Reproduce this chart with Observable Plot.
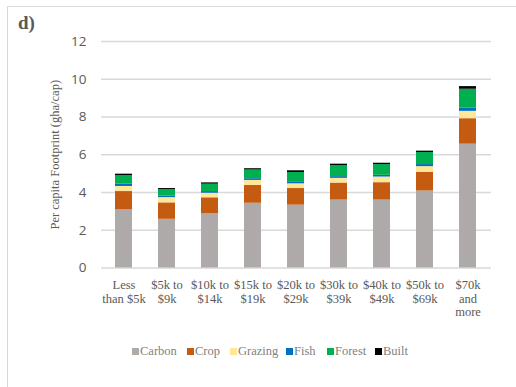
<!DOCTYPE html>
<html>
<head>
<meta charset="utf-8">
<script src="https://cdn.jsdelivr.net/npm/d3@7"></script>
<script src="https://cdn.jsdelivr.net/npm/@observablehq/plot@0.6"></script>
<style>
  html, body { margin: 0; padding: 0; background: #fff; }
  #wrap { position: relative; width: 516px; height: 387px; overflow: hidden; background: #fff; }
  #frame { position: absolute; left: 7px; top: 6px; width: 600px; height: 500px; border: 1px solid #d9d9d9; box-sizing: border-box; }
  #tag { position: absolute; left: 18px; top: 12px; font-family: "Liberation Serif", "Times New Roman", serif; font-weight: bold; font-size: 19px; color: #595959; }
  #chart { position: absolute; left: 0; top: 0; }
  #legend { position: absolute; left: 0; top: 344px; width: 516px; font-family: "Liberation Serif", "Times New Roman", serif; font-size: 12.5px; color: #7f7f7f; }
  .item { position: absolute; top: 0; white-space: nowrap; font-family: "Liberation Serif", serif; }
  .sw { display: inline-block; width: 7px; height: 7px; margin-right: 1px; vertical-align: 0px; }
</style>
</head>
<body>
<div id="wrap">
  <div id="frame"></div>
  <div id="chart"></div>
  <div id="tag">d)</div>
  <div id="legend"></div>
</div>
<script>
const categories = ["Less\nthan $5k", "$5k to\n$9k", "$10k to\n$14k", "$15k to\n$19k", "$20k to\n$29k", "$30k to\n$39k", "$40k to\n$49k", "$50k to\n$69k", "$70k\nand\nmore"];
const seriesNames = ["Carbon", "Crop", "Grazing", "Fish", "Forest", "Built"];
const seriesColors = ["#AEAAAA", "#C55A11", "#FFE699", "#0070C0", "#00B050", "#000000"];
const carbon  = [3.08, 2.58, 2.87, 3.43, 3.33, 3.60, 3.60, 4.08, 6.56];
const crop    = [0.97, 0.87, 0.85, 0.94, 0.88, 0.90, 0.92, 0.99, 1.35];
const grazing = [0.27, 0.28, 0.24, 0.27, 0.25, 0.25, 0.30, 0.30, 0.39];
const fish    = [0.12, 0.08, 0.09, 0.09, 0.11, 0.09, 0.09, 0.11, 0.18];
const forest  = [0.46, 0.35, 0.39, 0.46, 0.49, 0.59, 0.57, 0.64, 0.99];
const built   = [0.07, 0.05, 0.07, 0.07, 0.09, 0.07, 0.07, 0.07, 0.14];
const yTicks = [0, 2, 4, 6, 8, 10, 12];
const yLabel = "Per capita Footprint (gha/cap)";

const seriesValues = [carbon, crop, grazing, fish, forest, built];
const rows = [];
seriesNames.forEach((s, si) => {
  categories.forEach((c, ci) => rows.push({category: c, series: s, value: seriesValues[si][ci]}));
});

const chart = Plot.plot({
  width: 516,
  height: 330,
  marginTop: 41,
  marginBottom: 62.5,
  marginLeft: 101,
  marginRight: 25,
  style: {background: "transparent", overflow: "visible"},
  x: {domain: categories, paddingInner: 0.6, paddingOuter: 0.3, label: null},
  y: {domain: [0, 12], ticks: yTicks, label: null},
  color: {domain: seriesNames, range: seriesColors},
  marks: [
    Plot.ruleY(yTicks, {stroke: "#d9d9d9", strokeWidth: 1.3}),
    Plot.barY(rows, {x: "category", y: "value", fill: "series", order: seriesNames}),
    Plot.axisY({ticks: yTicks, tickSize: 0, tickPadding: 15, fontSize: 13.5, fill: "#595959",
      fontFamily: "'Open Sans', 'Liberation Sans', sans-serif", label: null}),
    Plot.axisX({tickSize: 0, tickPadding: 11, fontSize: 12.5, fill: "#595959",
      fontFamily: "'Liberation Serif', 'Times New Roman', serif", lineHeight: 1.1, label: null}),
    Plot.text([yLabel], {frameAnchor: "left", textAnchor: "middle", dx: -47, dy: 0, rotate: -90, fontSize: 12.5, fill: "#595959",
      fontFamily: "'Liberation Serif', 'Times New Roman', serif"})
  ]
});
document.getElementById("chart").appendChild(chart);

const legend = document.getElementById("legend");
const legendX = [132, 187, 230, 286, 327, 375];
seriesNames.forEach((s, i) => {
  const d = document.createElement("div");
  d.className = "item";
  d.style.left = legendX[i] + "px";
  d.innerHTML = `<span class="sw" style="background:${seriesColors[i]}"></span>${s}`;
  legend.appendChild(d);
});
</script>
</body>
</html>
